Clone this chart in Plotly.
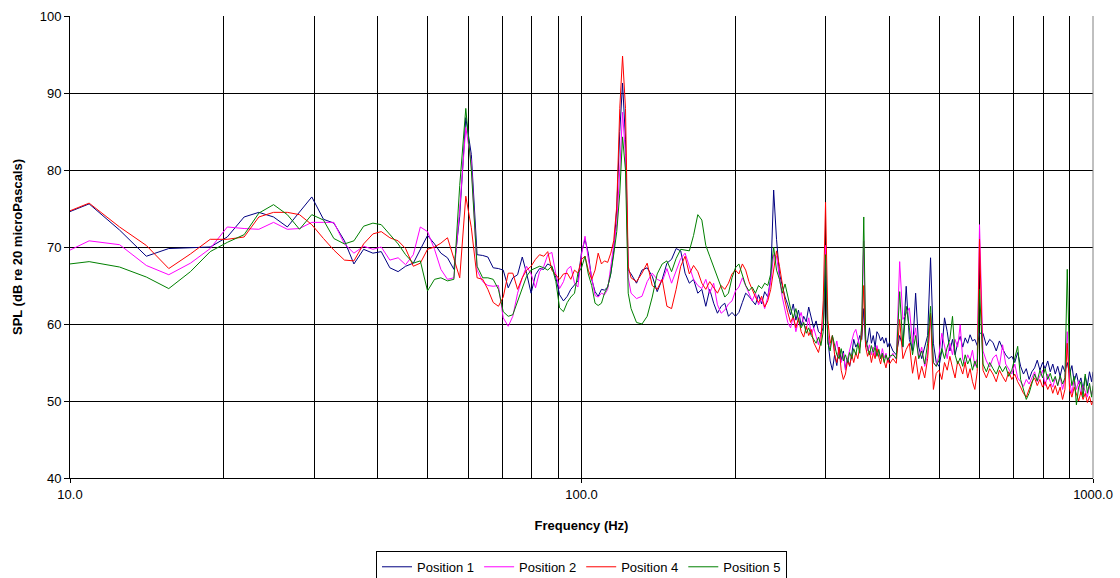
import plotly.graph_objects as go

# Frequency bins (Hz) shared by all four microphone positions
freq_hz = [
    10.0, 10.9, 12.5, 14.1, 15.6, 17.2, 18.8, 20.3, 21.9, 23.4, 25.0, 26.6, 28.1, 29.7, 31.3,
    32.8, 34.4, 35.9, 37.5, 39.1, 40.6, 42.2, 43.8, 45.3, 46.9, 48.4, 50.0, 51.6, 53.1, 54.7,
    56.3, 57.8, 59.4, 60.9, 62.5,
    64.1, 65.6, 67.2, 68.8, 70.3, 71.9, 73.4, 75.0, 76.6, 78.1, 79.7, 81.3, 82.8, 84.4, 85.9,
    87.5, 89.1, 90.6, 92.2, 93.8, 95.3, 96.9, 98.4, 100.0, 101.6, 103.1, 104.7, 106.3, 107.8,
    109.4, 110.9, 112.5, 114.1, 115.6, 117.2, 118.8, 120.3, 121.9, 123.4,
    125.0, 128.1, 131.3, 134.4, 137.5, 140.6, 143.8, 146.9, 150.0, 153.1, 156.3, 159.4, 162.5,
    165.6, 168.8, 171.9, 175.0, 178.1, 181.3, 184.4, 187.5, 190.6, 193.8, 196.9, 200.0,
    203.1, 206.3, 209.4, 212.5, 215.6, 218.8, 221.9, 225.0, 228.1, 231.3, 234.4, 237.5,
    240.6, 243.8, 246.9, 250.0, 253.1, 256.3, 259.4, 262.5, 265.6, 268.8, 271.9, 275.0,
    278.1, 281.3, 284.4, 287.5, 290.6, 293.8, 296.9, 300.0,
    303.1, 306.3, 309.4, 312.5, 315.6, 318.8, 321.9, 325.0, 328.1, 331.3, 334.4, 337.5,
    340.6, 343.8, 346.9, 350.0, 353.1, 356.3,
    359.4, 362.5, 365.6, 368.8, 371.9, 375.0, 378.1, 381.3, 384.4, 387.5, 390.6, 393.8,
    396.9, 400.0,
    406.3, 412.5, 418.8, 425.0, 431.3, 437.5, 443.8, 450.0, 456.3, 462.5, 468.8, 475.0,
    481.3, 487.5, 493.8, 500.0, 506.3, 512.5, 518.8, 525.0, 531.3, 537.5, 543.8, 550.0,
    556.3, 562.5, 568.8, 575.0, 581.3, 587.5, 593.8, 600.0,
    609.4, 618.8, 628.1, 637.5, 646.9, 656.3, 665.6, 675.0, 684.4, 693.8, 703.1, 712.5,
    721.9, 731.3, 740.6, 750.0, 759.4, 768.8, 778.1, 787.5, 796.9, 806.3, 815.6, 825.0,
    834.4, 843.8, 853.1, 862.5, 871.9, 881.3, 890.6, 900.0, 909.4, 918.8, 928.1, 937.5,
    946.9, 956.3, 965.6, 975.0, 984.4, 993.8, 1000.0,
]

# SPL readings, dB re 20 microPascals
position_1 = [
    74.6, 75.6, 72.2, 68.8, 69.8, 69.9, 70.0, 71.3, 73.9, 74.5, 73.9, 72.6, 74.5, 76.5, 73.6,
    73.1, 70.8, 67.8, 69.7, 69.2, 69.4, 67.3, 66.8, 67.5, 67.9, 69.7, 71.5, 70.4, 69.2, 68.6,
    67.1, 74.0, 86.8, 82.0, 69.0,
    68.9, 68.7, 67.3, 67.2, 67.0, 64.7, 66.0, 66.4, 68.7, 66.6, 64.0, 66.4, 67.2, 67.1, 67.8,
    67.5, 66.0, 63.8, 63.0, 63.6, 64.5, 65.0, 65.6, 69.3, 71.0, 69.2, 65.8, 64.2, 63.6,
    64.5, 64.4, 64.8, 66.5, 69.5, 75.0, 85.0, 91.3, 84.0, 67.0,
    66.5, 65.3, 67.0, 67.3, 66.2, 64.2, 65.8, 67.9, 68.4, 69.8, 69.5, 66.6, 65.3,
    65.8, 64.0, 64.5, 62.3, 64.5, 62.7, 61.4, 62.3, 62.7, 61.0, 61.5, 61.0,
    61.5, 62.8, 64.0, 63.6, 63.0, 62.5, 63.8, 62.6, 64.2, 63.5, 66.0, 77.4,
    71.0, 66.5, 65.0, 63.5, 62.5, 61.2, 62.6, 60.5, 61.8, 59.8, 61.0, 60.3,
    62.2, 60.7, 59.5, 60.4, 59.0, 58.7, 59.6, 66.0,
    58.0, 55.2, 54.0, 56.0, 54.6, 57.0, 55.3, 56.5, 54.2, 55.5, 54.5, 56.0,
    58.0, 57.0, 57.5, 58.5, 58.0, 62.0,
    57.0, 57.8, 59.5, 57.5, 58.5, 57.0, 59.0, 58.6, 57.8, 58.3, 57.5, 58.2,
    57.0, 57.6,
    56.5, 56.0, 58.5, 57.0, 64.9, 58.0, 56.5, 64.0, 57.0, 55.5, 57.0, 58.5,
    68.6, 57.5, 55.0, 54.5, 56.5, 60.8, 59.0, 56.5, 58.0, 56.0, 57.5, 58.4,
    57.0, 58.2, 57.5, 58.6, 57.8, 58.0, 57.2, 58.8,
    58.8, 57.2, 58.0, 57.6, 56.5, 57.8, 56.8, 56.0, 55.5, 55.8, 55.0, 56.3,
    54.5, 53.5, 54.2, 52.8, 53.8, 54.3, 55.3, 54.0, 55.0, 54.2, 55.2, 53.8,
    54.8, 53.5, 54.5, 53.2, 54.6, 53.8, 55.0, 53.5, 54.6, 52.5, 53.6, 52.2,
    53.0, 51.5, 53.2, 52.0, 53.8, 52.5, 53.8,
]

position_2 = [
    69.6, 70.8, 70.3, 67.6, 66.4, 67.9, 69.8, 72.6, 72.4, 72.3, 73.2, 72.3, 72.4, 73.2, 73.2,
    73.2, 70.4, 69.2, 70.1, 69.7, 70.0, 68.3, 68.6, 67.7, 69.0, 72.6, 72.0, 69.7, 67.1, 65.8,
    66.0, 75.0, 85.5, 81.0, 67.0,
    65.5, 65.0, 64.9, 65.0, 60.8, 59.7, 61.0, 64.0, 66.0, 67.5, 66.5, 64.7, 66.8, 67.5, 69.0,
    69.3, 66.5, 64.6, 65.5, 67.1, 67.5, 65.3, 64.8, 69.0, 71.4, 68.5, 65.8, 63.7, 63.5,
    64.0, 63.8, 64.5, 67.5, 70.5, 73.0, 80.0, 87.5, 82.0, 66.0,
    64.0, 63.3, 63.6, 65.5, 66.6, 65.8, 65.5, 67.2, 65.3, 67.0, 68.5, 69.2, 67.5,
    65.8, 65.0, 64.6, 65.8, 64.0, 65.3, 62.5, 61.4, 61.8, 62.6, 63.0, 64.3,
    64.8, 66.0, 65.0, 63.8, 63.0, 64.0, 62.5, 63.3, 62.0, 63.5, 65.5, 69.0,
    68.8, 66.0, 63.5, 61.8, 60.2, 59.5, 61.0, 59.0, 60.5, 61.5, 60.0, 59.3,
    60.8, 58.6, 59.5, 58.4, 57.3, 58.8, 60.5, 70.2,
    58.5, 57.0, 58.5, 56.5, 57.8, 56.0, 55.0, 56.2, 54.0, 55.5, 56.5, 57.5,
    58.8, 59.3, 58.0, 57.0, 59.5, 70.8,
    58.0, 56.5, 57.3, 56.0, 57.0, 55.8, 57.2, 56.3, 55.5, 56.8, 55.6, 56.2,
    55.0, 55.5,
    56.2, 55.4, 68.1, 60.6, 61.4, 62.1, 57.5, 59.5, 55.5, 57.0, 54.5, 56.0,
    61.0, 55.0, 54.5, 56.0, 58.8, 57.0, 55.5, 57.5, 56.0, 58.0, 57.0, 59.9,
    55.4, 54.8, 56.0, 55.3, 56.6, 54.5, 55.5, 72.9,
    56.5, 55.2, 54.4, 55.6, 56.0, 54.5, 57.3, 54.8, 54.2, 53.5, 54.8, 53.0,
    52.5, 51.9, 52.8, 52.2, 53.0, 53.8, 52.5, 53.3, 54.0, 52.0, 53.5, 52.5,
    51.8, 53.0, 52.0, 53.2, 51.5, 52.8, 59.0, 52.5, 51.0, 52.8, 51.5, 52.6,
    50.8, 52.0, 51.2, 50.5, 52.0, 50.8, 51.5,
]

position_4 = [
    74.7, 75.7, 72.6, 70.2, 67.2, 69.1, 71.0, 71.0, 71.3, 73.9, 74.5, 74.5, 74.2, 72.9, 71.1,
    69.6, 68.3, 68.2, 70.4, 71.7, 72.0, 71.2, 70.8, 69.8, 67.5, 67.9, 69.7, 70.0, 70.5, 71.2,
    68.5, 66.0, 76.6, 72.5, 66.0,
    65.8, 64.5, 62.8, 62.3, 63.5, 66.6, 66.6, 64.5, 66.0, 67.0, 67.5, 68.4, 69.0, 68.8, 69.4,
    67.0, 66.3, 65.8, 66.5, 66.6, 65.8, 67.0, 66.6, 68.4, 68.8, 67.0, 65.8, 67.0, 69.2,
    67.8, 68.2, 68.0, 69.2, 70.8, 75.3, 88.0, 94.8, 88.0, 67.5,
    66.0, 65.5, 66.6, 67.9, 65.0, 64.5, 65.8, 62.3, 62.0, 64.5, 67.5, 68.8, 66.5,
    67.6, 66.8, 65.3, 64.5, 65.5, 64.8, 64.0, 65.0, 64.5, 65.3, 66.5, 67.0,
    66.5, 67.8, 67.0, 65.5, 64.5, 63.5, 62.8, 63.6, 62.2, 63.0, 64.5, 67.0,
    69.5, 67.5, 65.3, 63.0, 61.5, 60.2, 61.0, 59.5, 60.8, 59.0, 58.3, 59.7,
    58.5, 59.3, 57.6, 57.0, 56.3, 57.8, 63.0, 75.8,
    60.5, 57.5, 58.5, 56.0, 55.0, 57.0, 54.0, 52.8, 53.5, 55.2, 54.6, 56.0,
    55.0, 56.3, 55.5, 57.0, 58.5, 65.0,
    57.0, 55.8, 56.5, 55.0, 56.2, 55.5, 56.8, 55.7, 54.8, 56.0, 55.2, 54.3,
    55.5, 54.8,
    55.5, 54.9, 60.6, 55.5, 56.7, 57.5, 53.6, 55.8, 52.8, 54.5, 53.0, 55.5,
    61.4, 51.5, 53.6, 54.0, 52.8, 55.0, 54.0, 55.8, 54.3, 53.0, 55.2, 54.5,
    53.5, 55.0, 53.0, 54.2, 52.5, 51.5, 53.8, 71.0,
    54.0, 53.0, 54.2, 53.5, 52.5, 54.0, 53.2, 52.5, 53.8, 52.8, 53.5, 52.5,
    51.8, 51.0, 50.5, 51.5, 52.5, 53.0, 52.0, 52.8, 51.8, 52.5, 51.5, 52.2,
    51.0, 52.0, 50.8, 51.8, 50.2, 51.5, 57.5, 51.5, 50.5, 51.8, 50.8, 50.0,
    51.2, 50.2, 51.0, 49.8, 50.6, 49.5, 50.0,
]

position_5 = [
    67.8, 68.1, 67.4, 66.1, 64.6, 66.8, 69.4, 70.6, 71.6, 74.4, 75.5, 74.2, 72.3, 74.2, 73.5,
    71.1, 70.4, 70.8, 72.7, 73.1, 72.9, 71.6, 70.4, 69.0, 67.9, 68.2, 64.3, 65.8, 66.0, 65.6,
    65.8, 78.0, 88.0, 80.0, 67.5,
    66.0, 66.0, 65.8, 64.5, 61.6, 61.0, 61.2, 63.0, 64.5, 66.2, 67.0, 67.3, 67.5, 67.3, 67.0,
    67.5, 65.5, 62.1, 61.6, 62.8, 63.5, 64.0, 66.6, 67.3, 68.8, 66.5, 65.0, 62.7, 62.4,
    62.7, 64.0, 64.8, 66.6, 69.0, 72.0, 77.0, 84.3, 80.0, 64.0,
    62.0, 60.2, 60.0, 61.0, 63.5, 66.5, 67.8, 68.2, 66.8, 68.5, 69.7, 69.6, 69.5,
    71.5, 74.2, 73.5, 70.2, 68.8, 67.5, 66.0, 64.8, 63.5, 64.0, 66.0, 67.3,
    67.8, 66.5, 65.0, 64.3, 64.8, 64.0, 65.0, 64.6, 65.3, 65.0, 66.5, 70.0,
    67.0, 65.8, 64.0, 65.2, 63.5, 62.0, 60.8, 62.0, 60.5, 59.5, 60.2, 58.8,
    59.5, 58.5, 58.0, 57.5, 58.3, 57.2, 59.0, 69.0,
    57.5, 56.5, 58.5, 57.3, 56.0, 55.5, 56.8, 55.2, 56.0, 55.0, 56.3, 55.5,
    56.8, 56.0, 57.5, 56.2, 60.0, 73.9,
    58.0, 57.0, 56.0, 57.2, 56.3, 57.0, 55.8, 56.7, 55.5, 56.2, 55.0, 56.0,
    55.3, 55.8,
    56.0, 55.5, 64.2, 57.1, 62.3, 59.5, 56.0, 58.5, 55.5, 56.5, 54.8, 57.5,
    62.3, 55.0, 54.5, 55.3, 56.8, 55.5, 57.0, 58.0, 61.0, 56.0, 54.8, 55.6,
    54.5, 56.0, 54.8, 55.5, 54.0, 55.2, 54.3, 64.5,
    54.8, 53.8, 55.0, 54.2, 53.5, 54.6, 53.8, 54.5, 53.2, 54.0, 55.5, 57.1,
    52.8, 51.5, 50.2, 51.0, 52.3, 53.5, 52.6, 54.0, 53.0, 54.2, 52.8, 53.6,
    52.5, 53.2, 52.0, 53.3, 52.2, 53.0, 67.1, 54.5, 52.0, 53.2, 49.5, 51.8,
    52.5, 50.5, 53.5, 51.0, 52.3, 50.5, 52.0,
]

series_names = ["Position 1", "Position 2", "Position 4", "Position 5"]
series_colors = ["#000080", "#FF00FF", "#FF0000", "#008000"]

x_label_vals = [10, 100, 1000]
x_label_text = ["10.0", "100.0", "1000.0"]
x_grid_vals = [20, 30, 40, 50, 60, 70, 80, 90, 100,
               200, 300, 400, 500, 600, 700, 800, 900]

for s in (position_1, position_2, position_4, position_5):
    assert len(s) == len(freq_hz), (len(s), len(freq_hz))

FONT = "Liberation Sans, Arial, sans-serif"

fig = go.Figure()
for name, color, vals in zip(series_names, series_colors,
                             [position_1, position_2, position_4, position_5]):
    fig.add_trace(go.Scatter(
        x=freq_hz, y=vals, mode="lines", name=name,
        line=dict(color=color, width=1),
    ))

fig.update_layout(
    width=1120, height=578,
    margin=dict(l=70, r=27, t=16, b=100, autoexpand=False),
    paper_bgcolor="white", plot_bgcolor="white",
    font=dict(family=FONT, size=13, color="black"),
    showlegend=True,
    legend=dict(
        orientation="h", x=0.5, xanchor="center",
        yref="container", y=0.047, yanchor="top",
        bordercolor="black", borderwidth=1, bgcolor="white",
        font=dict(family=FONT, size=13, color="black"),
        itemwidth=30, tracegroupgap=0,
    ),
    xaxis=dict(
        type="log", range=[1, 3],
        tickmode="array", tickvals=x_label_vals, ticktext=x_label_text,
        ticks="outside", ticklen=4, tickcolor="black",
        showgrid=False, zeroline=False,
        showline=True, linecolor="black", linewidth=1,
        minor=dict(tickmode="array", tickvals=x_grid_vals, showgrid=True,
                   gridcolor="black", gridwidth=1, ticks=""),
        title=dict(text="<b>Frequency (Hz)</b>", standoff=20,
                   font=dict(family=FONT, size=13)),
        tickfont=dict(family=FONT, size=13),
    ),
    yaxis=dict(
        range=[40, 100], tickmode="array", tickvals=[40, 50, 60, 70, 80, 90, 100],
        ticks="outside", ticklen=5, tickcolor="black",
        showgrid=True, gridcolor="black", gridwidth=1, zeroline=False,
        showline=True, linecolor="black", linewidth=1,
        title=dict(text="<b>SPL (dB re 20 microPascals)</b>", standoff=14,
                   font=dict(family=FONT, size=13)),
        tickfont=dict(family=FONT, size=13),
    ),
    shapes=[dict(type="line", xref="x domain", yref="y domain",
                 x0=1, x1=1, y0=0, y1=1,
                 line=dict(color="#808080", width=1))],
)

fig.write_html("out.html")
